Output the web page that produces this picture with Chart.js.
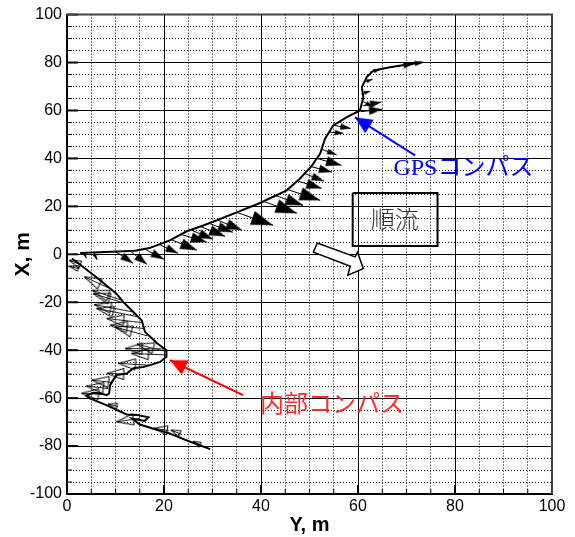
<!DOCTYPE html>
<html><head><meta charset="utf-8">
<script src="https://cdn.jsdelivr.net/npm/chart.js@4/dist/chart.umd.min.js"></script>
<style>html,body{margin:0;padding:0;background:#fff}</style>
</head><body>
<canvas id="c" width="575" height="537"></canvas>
<script>
// ---- axis ticks ----
const yAxisTicks = [0, 20, 40, 60, 80, 100];          // horizontal axis "Y, m"
const xAxisTicks = [-100, -80, -60, -40, -20, 0, 20, 40, 60, 80, 100]; // vertical axis "X, m"

// ---- GPS compass track (Y, X in m) ----
const gpsTrackY = [2.7, 8, 14, 17, 21.2, 24.7, 28.1, 30.9, 35, 39.8, 45.3, 48, 50.5, 52.2, 53.2, 54.9, 57.7, 60.4, 61.1, 60.8, 61.8, 63.2, 66.6, 73.1];
const gpsTrackX = [0.5, 1, 1.5, 2.6, 5.8, 9.6, 12, 14.2, 17.5, 21.4, 26.7, 31.5, 37, 42, 48.2, 53.75, 57.2, 60, 65.5, 69.7, 73.9, 76.7, 78, 80.1];

// ---- internal compass track ----
const inTrackY = [1, 2, 6, 10.2, 11.6, 15.4, 16.1, 18.5, 20.5, 20.5, 19.2, 17.1, 15.7, 13.7, 12.3, 10.2, 9.5, 8.9, 8.7, 8.2, 6.8, 5.4, 4, 4.7, 8, 12.3, 14.5, 16.8, 16, 13.5, 15, 17.5, 21, 25, 29.5];
const inTrackX = [-1.8, -3.2, -9.5, -16.4, -19.9, -27.5, -32.4, -37, -40, -42.8, -44.9, -46.25, -47, -47.5, -49.7, -50.4, -52.5, -54.6, -58, -58.75, -58, -57.8, -59, -60.1, -62.8, -66.8, -67, -68, -69.5, -68.6, -71, -72.6, -74.6, -77.9, -81.3];

// ---- GPS heading vectors (base -> tip) ----
const gpsVecBaseY = [3.5, 5.5, 10, 13, 16, 19, 21.5, 23.5, 25.5, 27.5, 29.3, 31, 35, 40.5, 43, 45.5, 47.5, 49, 50.3, 51.5, 52.5, 54, 55, 60.5, 61, 60.8, 60.7, 61.5, 62.5, 68, 70.5];
const gpsVecBaseX = [0.6, 0.7, 1.2, 1.4, 2.2, 4.1, 6.1, 8.3, 10.2, 11.6, 12.9, 14.3, 17.5, 22.1, 24.5, 27, 30.6, 33.7, 36.6, 40, 43.8, 51, 53.8, 59.5, 62, 64, 67, 72, 76, 78.5, 79.3];
const gpsVecTipY  = [4.0, 6.2, 13.6, 16.5, 20, 22.9, 26.8, 28.9, 30.1, 32.6, 34.2, 36.1, 42.5, 47.4, 48.7, 52.2, 52.5, 53, 54.6, 56.6, 55.6, 57, 58.5, 65, 64.8, 63, 62.5, 63, 64.5, 71.5, 73.5];
const gpsVecTipX  = [-1.6, -2.3, -3.7, -4.2, -2.1, 0.4, 1.7, 5, 6.3, 7.5, 9.2, 10, 12.1, 17.1, 20.4, 22.5, 27.5, 30.5, 34.3, 37.1, 41.5, 50.5, 52.5, 60.5, 63.5, 61.5, 68, 73, 77, 79.4, 80.1];

// ---- internal compass heading vectors (base -> tip) ----
const inVecBaseY = [3, 2.5, 8.5, 11, 12, 13.5, 14.5, 15.5, 16, 16.5, 20, 20.3, 20.5, 17.1, 12.5, 9.5, 8.5, 7.5, 15, 21, 23.5, 27.5, 10.5];
const inVecBaseX = [-4.5, -6, -14, -19, -20.5, -24, -26, -28.5, -31, -34, -39.5, -40.5, -42, -46.3, -50, -53.5, -56, -58.5, -68.5, -73.5, -75, -79.5, -63.5];
const inVecTipY  = [0.5, 0.5, 3.6, 5.2, 5.4, 5.6, 6.1, 8.2, 8.9, 9.9, 12, 14.4, 13.3, 10.6, 8.2, 5.1, 4, 3, 10.2, 17.8, 21.4, 26, 8.5];
const inVecTipX  = [-2.5, -5, -9.4, -15, -16.4, -21, -22.6, -26.8, -29.6, -30.3, -39.3, -37.5, -41.4, -45.5, -49.7, -52.5, -55, -58, -69.9, -72.6, -73.3, -78, -62.5];

// ---- annotations ----
const flowBoxY = [58.9, 76.4, 76.4, 58.9, 58.9];
const flowBoxX = [25.6, 25.6, 3.5, 3.5, 25.6];
const flowArrowY = [51.6, 59.4, 59.9, 61.1, 57.9, 58.4, 50.8, 51.6];
const flowArrowX = [4.7, -1.1, 0.9, -6.0, -8.75, -5, 0.9, 4.7];
const gpsCalloutY = [71.75, 59.4];
const gpsCalloutX = [41.25, 57.1];
const inCalloutY = [36.3, 21.2];
const inCalloutX = [-58.75, -44.2];
const labelTexts = ['GPSコンパス', '内部コンパス', '順流'];
const labelY = [67.3, 39.8, 67.6];
const labelX = [35.8, -62.1, 14.6];

// ---- helpers ----
const pts = (xs, ys) => xs.map((v, i) => ({x: v, y: ys[i]}));
function vecData(bY, bX, tY, tX) {
  const out = [];
  bY.forEach((v, i) => { out.push({x: v, y: bX[i]}, {x: tY[i], y: tX[i]}, {x: null, y: null}); });
  return out;
}
function headData(bY, bX, tY, tX) {
  return tY.map((v, i) => ({x: v, y: tX[i], bx: bY[i], by: bX[i]}));
}
const headCache = {};
function headCanvas(len, wid, fill, stroke) {
  const key = [len.toFixed(1), wid.toFixed(1), fill, stroke].join('|');
  if (headCache[key]) return headCache[key];
  const pad = 2;
  const c = document.createElement('canvas');
  c.width = Math.ceil(2 * len + 2 * pad);
  c.height = Math.ceil(wid + 2 * pad);
  const g = c.getContext('2d');
  const cx = c.width / 2, cy = c.height / 2;
  g.beginPath();
  g.moveTo(cx, cy); g.lineTo(cx - len, cy - wid / 2); g.lineTo(cx - len, cy + wid / 2); g.closePath();
  if (fill) { g.fillStyle = fill; g.fill(); }
  if (stroke) { g.strokeStyle = stroke; g.lineWidth = 1; g.stroke(); }
  headCache[key] = c;
  return c;
}
function pixVec(ctx) {
  const sx = ctx.chart.scales.x, sy = ctx.chart.scales.y, r = ctx.raw;
  const dx = sx.getPixelForValue(r.x) - sx.getPixelForValue(r.bx);
  const dy = sy.getPixelForValue(r.y) - sy.getPixelForValue(r.by);
  return {dx, dy, len: Math.hypot(dx, dy)};
}
const headRot = ctx => { const v = pixVec(ctx); return Math.atan2(v.dy, v.dx) * 180 / Math.PI; };
const scaledHead = (fill, stroke, k, minL, maxL) => ctx => {
  const v = pixVec(ctx);
  const L = Math.max(minL, Math.min(maxL, v.len * k));
  return headCanvas(L, L * 0.65, fill, stroke);
};

const FONT = "'Liberation Sans', Arial, sans-serif";

const innerTicks = {
  id: 'innerTicks',
  beforeDatasetsDraw(chart) {
    const {ctx, chartArea: a, scales: {x, y}} = chart;
    ctx.save();
    ctx.strokeStyle = '#000';
    for (let v = 0; v <= 100; v += 5) {
      const px = x.getPixelForValue(v), major = v % 20 === 0;
      ctx.lineWidth = major ? 2 : 1;
      ctx.beginPath(); ctx.moveTo(px, a.bottom); ctx.lineTo(px, a.bottom - (major ? 9 : 5)); ctx.stroke();
    }
    for (let v = -100; v <= 100; v += 5) {
      const py = y.getPixelForValue(v), major = v % 20 === 0;
      ctx.lineWidth = major ? 2 : 1;
      ctx.beginPath(); ctx.moveTo(a.left, py); ctx.lineTo(a.left + (major ? 11 : 5), py); ctx.stroke();
    }
    ctx.strokeStyle = '#444'; ctx.lineWidth = 2;
    ctx.beginPath(); ctx.moveTo(a.left, a.top); ctx.lineTo(a.right, a.top); ctx.lineTo(a.right, a.bottom); ctx.stroke();
    ctx.restore();
  }
};
const textLabels = {
  id: 'textLabels',
  afterDatasetsDraw(chart) {
    const {ctx, scales: {x, y}} = chart;
    const styles = [
      {font: "24px 'Liberation Serif', 'Noto Sans CJK JP', serif", color: '#0000ff', align: 'left'},
      {font: "24px 'Noto Sans CJK JP', 'Liberation Serif', serif", color: '#ff2a2a', align: 'left'},
      {font: "300 24px 'Noto Sans CJK JP', serif", color: '#333', align: 'center'}
    ];
    ctx.save();
    labelTexts.forEach((t, i) => {
      const s = styles[i];
      ctx.font = s.font; ctx.fillStyle = s.color; ctx.textAlign = s.align; ctx.textBaseline = 'middle';
      ctx.fillText(t, x.getPixelForValue(labelY[i]), y.getPixelForValue(labelX[i]));
    });
    ctx.restore();
  }
};

const lineDs = (data, extra) => Object.assign({
  data, showLine: true, borderColor: '#000', borderWidth: 1, pointRadius: 0,
  tension: 0, spanGaps: false, fill: false
}, extra);
const headDs = (data, extra) => Object.assign({
  data, showLine: false, pointRadius: 5, rotation: headRot, borderWidth: 0
}, extra);

const datasets = [
  lineDs(pts(flowBoxY, flowBoxX), {borderWidth: 2, order: 9}),
  lineDs(pts(flowArrowY, flowArrowX), {borderWidth: 1.5, fill: 'shape', backgroundColor: '#fff', order: 1}),
  lineDs(vecData(gpsVecBaseY, gpsVecBaseX, gpsVecTipY, gpsVecTipX), {borderWidth: 1, order: 6}),
  headDs(headData(gpsVecBaseY, gpsVecBaseX, gpsVecTipY, gpsVecTipX), {pointStyle: scaledHead('#000', null, 0.6, 6, 22), order: 5}),
  lineDs(vecData(inVecBaseY, inVecBaseX, inVecTipY, inVecTipX), {borderWidth: 1, borderColor: '#222', order: 6}),
  headDs(headData(inVecBaseY, inVecBaseX, inVecTipY, inVecTipX), {pointStyle: scaledHead(null, '#000', 0.9, 8, 17), order: 5}),
  lineDs(pts(gpsTrackY, gpsTrackX), {borderWidth: 2, order: 4}),
  lineDs(pts(inTrackY, inTrackX), {borderWidth: 2, order: 4}),
  lineDs(pts(gpsCalloutY, gpsCalloutX), {borderWidth: 2, borderColor: '#0000ff', order: 2}),
  headDs([{x: gpsCalloutY[1], y: gpsCalloutX[1], bx: gpsCalloutY[0], by: gpsCalloutX[0]}], {pointStyle: headCanvas(17, 16, '#0000ff', null), order: 2}),
  lineDs(pts(inCalloutY, inCalloutX), {borderWidth: 2, borderColor: '#ff0000', order: 2}),
  headDs([{x: inCalloutY[1], y: inCalloutX[1], bx: inCalloutY[0], by: inCalloutX[0]}], {pointStyle: headCanvas(17, 16, '#ff0000', null), order: 2})
];

new Chart(document.getElementById('c'), {
  type: 'line',
  data: {datasets},
  plugins: [innerTicks, textLabels],
  options: {
    responsive: false, animation: false, events: [],
    layout: {padding: {top: 14, right: 23, left: 0, bottom: 0}},
    plugins: {legend: {display: false}, tooltip: {enabled: false}},
    scales: {
      x: {
        type: 'linear', position: 'bottom', min: 0, max: 100,
        afterBuildTicks: s => { s.ticks = yAxisTicks.map(v => ({value: v})); },
        ticks: {font: {family: FONT, size: 16}, color: '#000', padding: 3, maxRotation: 0},
        grid: {color: '#000', lineWidth: 1, drawTicks: false},
        border: {display: true, color: '#000', width: 2},
        title: {display: true, text: 'Y, m', color: '#000', font: {family: FONT, size: 20, weight: 'bold'}, padding: {top: 0, bottom: 0}},
        afterFit: s => { s.height = 43; }
      },
      xMinor: {
        type: 'linear', position: 'bottom', min: 0, max: 100,
        ticks: {display: false, stepSize: 5},
        grid: {color: c => (c.tick && c.tick.value % 20 === 0) ? 'rgba(0,0,0,0)' : '#000', lineWidth: 1, drawTicks: false},
        border: {display: false, dash: [1, 2]},
        afterFit: s => { s.height = 0; }
      },
      y: {
        type: 'linear', position: 'left', min: -100, max: 100,
        afterBuildTicks: s => { s.ticks = xAxisTicks.map(v => ({value: v})); },
        ticks: {font: {family: FONT, size: 16}, color: '#000', padding: 5},
        grid: {color: '#000', lineWidth: 1, drawTicks: false},
        border: {display: true, color: '#000', width: 2},
        title: {display: true, text: 'X, m', color: '#000', font: {family: FONT, size: 21, weight: 'bold'}, padding: {top: 11, bottom: 0}},
        afterFit: s => { s.width = 67; }
      },
      yMinor: {
        type: 'linear', position: 'left', min: -100, max: 100,
        ticks: {display: false, stepSize: 5},
        grid: {color: c => (c.tick && c.tick.value % 20 === 0) ? 'rgba(0,0,0,0)' : '#000', lineWidth: 1, drawTicks: false},
        border: {display: false, dash: [1, 2]},
        afterFit: s => { s.width = 0; }
      }
    }
  }
});
</script>
</body></html>
